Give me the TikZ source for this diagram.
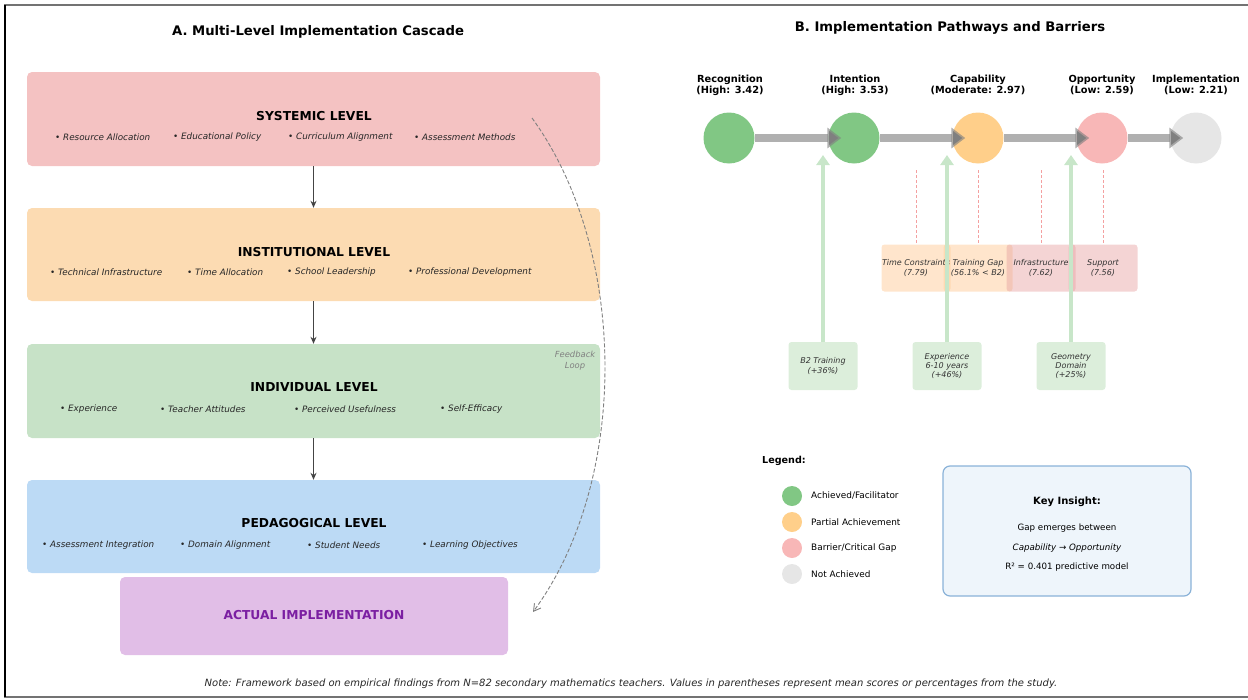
\documentclass[tikz,border=0pt]{standalone}
\usepackage{fontspec}
\setmainfont{DejaVu Sans}
\usetikzlibrary{arrows.meta}
\definecolor{sysfill}{HTML}{F4C2C2}
\definecolor{instfill}{HTML}{FCDBB2}
\definecolor{indfill}{HTML}{C7E2C7}
\definecolor{pedfill}{HTML}{BCDAF5}
\definecolor{implfill}{HTML}{E1BEE7}
\definecolor{impltext}{HTML}{7B1FA2}
\definecolor{cgreen}{HTML}{81C784}
\definecolor{corange}{HTML}{FFCF8A}
\definecolor{cpink}{HTML}{F8B7B7}
\definecolor{cgray}{HTML}{E6E6E6}
\definecolor{fgreen}{HTML}{C8E6C9}
\definecolor{fboxfill}{HTML}{DCEEDB}
\definecolor{borange}{HTML}{FFCC99}
\definecolor{bpink}{HTML}{E6A0A0}
\definecolor{bred}{HTML}{F4A0A0}
\definecolor{keyfill}{HTML}{EEF5FB}
\definecolor{keydraw}{HTML}{8AB2D8}
\definecolor{darkarrow}{HTML}{444444}
\tikzset{
  levelbox/.style={rounded corners=5pt, draw=none, minimum width=573pt, inner sep=0pt},
  leveltitle/.style={font=\bfseries\fontsize{12.3}{14}\selectfont, text=black},
  bulletitem/.style={anchor=west, inner sep=0pt, font=\itshape\fontsize{8.8}{10}\selectfont, text=black!85},
  cascadearrow/.style={draw=darkarrow, line width=1.1pt, -{Stealth[length=7pt,width=6pt]}},
  feedback/.style={draw=gray, line width=0.9pt, dash pattern=on 4pt off 2pt, -{Straight Barb[length=7pt,width=8pt]}},
  paneltitle/.style={font=\bfseries\fontsize{13.2}{15}\selectfont},
  stage/.style={circle, minimum size=51pt, inner sep=0pt, draw=none},
  stagelabel/.style={font=\bfseries\fontsize{9.8}{11}\selectfont, align=center, inner sep=0pt},
  flowarrow/.style={draw=black!50, draw opacity=0.62, line width=8pt, -{Triangle[length=14pt,width=20pt]}},
  facarrow/.style={draw=fgreen, line width=4pt, -{Triangle[length=10pt,width=13pt]}},
  facbox/.style={rounded corners=3pt, fill=fboxfill, minimum width=69pt, minimum height=48pt, inner sep=1pt, align=center, font=\itshape\fontsize{8}{9.4}\selectfont, text=black!80},
  barbox/.style={rounded corners=3pt, minimum width=69pt, minimum height=47pt, inner sep=0pt},
  bartext/.style={align=center, font=\itshape\fontsize{8}{9.4}\selectfont, text=black!80, inner sep=0pt},
  barline/.style={draw=bred, line width=0.6pt, dash pattern=on 3pt off 2pt},
  legdot/.style={circle, minimum size=20pt, inner sep=0pt},
  legtext/.style={anchor=west, font=\fontsize{8.9}{10}\selectfont, inner sep=0pt},
  keytext/.style={font=\fontsize{8.7}{10}\selectfont, inner sep=0pt},
}
\begin{document}
\begin{tikzpicture}[x=1pt, y=-1pt]
\useasboundingbox (0,0) rectangle (1248,699);
% frame
\draw[color=black!55, line width=1.5pt] (4,5) -- (1248,5);
\draw[color=black!55, line width=1.5pt] (4,697) -- (1248,697);
\draw[color=black, line width=1.5pt] (5,5) -- (5,697);

% ---------- Panel A ----------
\node[paneltitle] (titleA) at (318,32) {A. Multi-Level Implementation Cascade};

\node[levelbox, fill=sysfill, minimum height=94pt] (sys) at (313.5,119) {};
\node[levelbox, fill=instfill, minimum height=93pt] (inst) at (313.5,254.5) {};
\node[levelbox, fill=indfill, minimum height=94pt] (ind) at (313.5,391) {};
\node[levelbox, fill=pedfill, minimum height=93pt] (ped) at (313.5,526.5) {};
\node[rounded corners=5pt, fill=implfill, minimum width=388pt, minimum height=78pt, inner sep=0pt] (impl) at (314,616) {};

\node[leveltitle] (systitle) at (314,116) {SYSTEMIC LEVEL};
\node[bulletitem] (s1) at (55,137) {• Resource Allocation};
\node[bulletitem] (s2) at (173,137) {• Educational Policy};
\node[bulletitem] (s3) at (288,137) {• Curriculum Alignment};
\node[bulletitem] (s4) at (414,137) {• Assessment Methods};

\node[leveltitle] (insttitle) at (314,252) {INSTITUTIONAL LEVEL};
\node[bulletitem] (i1) at (50,272) {• Technical Infrastructure};
\node[bulletitem] (i2) at (187,272) {• Time Allocation};
\node[bulletitem] (i3) at (287,272) {• School Leadership};
\node[bulletitem] (i4) at (408,272) {• Professional Development};

\node[leveltitle] (indtitle) at (314,387) {INDIVIDUAL LEVEL};
\node[bulletitem] (n1) at (60,409) {• Experience};
\node[bulletitem] (n2) at (160,409) {• Teacher Attitudes};
\node[bulletitem] (n3) at (294,409) {• Perceived Usefulness};
\node[bulletitem] (n4) at (440,409) {• Self-Efficacy};

\node[leveltitle] (pedtitle) at (314,523) {PEDAGOGICAL LEVEL};
\node[bulletitem] (p1) at (42,545) {• Assessment Integration};
\node[bulletitem] (p2) at (180,545) {• Domain Alignment};
\node[bulletitem] (p3) at (307,545) {• Student Needs};
\node[bulletitem] (p4) at (422,545) {• Learning Objectives};

\node[font=\bfseries\fontsize{12.3}{14}\selectfont, text=impltext] (impltitle) at (314,615) {ACTUAL IMPLEMENTATION};

\draw[cascadearrow] (sys.south) -- (inst.north);
\draw[cascadearrow] (inst.south) -- (ind.north);
\draw[cascadearrow] (ind.south) -- (ped.north);

\coordinate (fbstart) at (532,118);
\coordinate (fbend) at (533,612);
\draw[feedback] (fbstart) .. controls (628,250) and (630,480) .. (fbend);
\node[font=\itshape\fontsize{8.4}{11}\selectfont, text=black!50, align=center, inner sep=0pt] (fblabel) at (575,361) {Feedback\\Loop};

% ---------- Panel B ----------
\node[paneltitle] (titleB) at (950,28) {B. Implementation Pathways and Barriers};

% barrier boxes
\node[barbox, fill=borange, fill opacity=0.5] (b1) at (916,268) {};
\node[barbox, fill=borange, fill opacity=0.5] (b2) at (978,268) {};
\node[barbox, fill=bpink, fill opacity=0.45] (b3) at (1041,268) {};
\node[barbox, fill=bpink, fill opacity=0.45] (b4) at (1103,268) {};
\node[bartext] (bt1) at (916,268) {Time Constraints\\(7.79)};
\node[bartext] (bt2) at (978,268) {Training Gap\\(56.1\% < B2)};
\node[bartext] (bt3) at (1041,268) {Infrastructure\\(7.62)};
\node[bartext] (bt4) at (1103,268) {Support\\(7.56)};

\coordinate (r1) at (916,170);
\coordinate (r2) at (978,170);
\coordinate (r3) at (1041,170);
\coordinate (r4) at (1103,170);
\draw[barline] (r1) -- (b1.north);
\draw[barline] (r2) -- (b2.north);
\draw[barline] (r3) -- (b3.north);
\draw[barline] (r4) -- (b4.north);

% stages
\node[stage, fill=cgreen] (c1) at (729,138) {};
\node[stage, fill=cgreen] (c2) at (854,138) {};
\node[stage, fill=corange] (c3) at (978,138) {};
\node[stage, fill=cpink] (c4) at (1102,138) {};
\node[stage, fill=cgray] (c5) at (1196,138) {};

\node[stagelabel] (l1) at (730,85) {Recognition\\(High: 3.42)};
\node[stagelabel] (l2) at (855,85) {Intention\\(High: 3.53)};
\node[stagelabel] (l3) at (978,85) {Capability\\(Moderate: 2.97)};
\node[stagelabel] (l4) at (1102,85) {Opportunity\\(Low: 2.59)};
\node[stagelabel] (l5) at (1196,85) {Implementation\\(Low: 2.21)};

\draw[flowarrow] (c1.east) -- ([xshift=13pt]c2.west);
\draw[flowarrow] (c2.east) -- ([xshift=13pt]c3.west);
\draw[flowarrow] (c3.east) -- ([xshift=13pt]c4.west);
\draw[flowarrow] (c4.east) -- ([xshift=13pt]c5.west);

% facilitators
\node[facbox] (f1) at (823,366) {B2 Training\\(+36\%)};
\node[facbox] (f2) at (947,366) {Experience\\6-10 years\\(+46\%)};
\node[facbox] (f3) at (1071,366) {Geometry\\Domain\\(+25\%)};
\coordinate (ft1) at (823,155);
\coordinate (ft2) at (947,155);
\coordinate (ft3) at (1071,155);
\draw[facarrow] (f1.north) -- (ft1);
\draw[facarrow] (f2.north) -- (ft2);
\draw[facarrow] (f3.north) -- (ft3);

% legend
\node[font=\bfseries\fontsize{9.6}{11}\selectfont, anchor=west, inner sep=0pt] (legtitle) at (762,461) {Legend:};
\node[legdot, fill=cgreen] (d1) at (792,496) {};
\node[legdot, fill=corange] (d2) at (792,522) {};
\node[legdot, fill=cpink] (d3) at (792,548) {};
\node[legdot, fill=cgray] (d4) at (792,574) {};
\node[legtext] (dl1) at (811,496) {Achieved/Facilitator};
\node[legtext] (dl2) at (811,522) {Partial Achievement};
\node[legtext] (dl3) at (811,548) {Barrier/Critical Gap};
\node[legtext] (dl4) at (811,574) {Not Achieved};

% key insight
\node[rounded corners=7pt, fill=keyfill, draw=keydraw, line width=1.2pt, minimum width=248pt, minimum height=130pt, inner sep=0pt] (key) at (1067,531) {};
\node[font=\bfseries\fontsize{10}{12}\selectfont, inner sep=0pt] (keytitle) at (1067,502) {Key Insight:};
\node[keytext] (k1) at (1067,528) {Gap emerges between};
\node[keytext, font=\itshape\fontsize{8.7}{10}\selectfont] (k2) at (1067,548) {Capability → Opportunity};
\node[keytext] (k3) at (1067,567) {R² = 0.401 predictive model};

% note
\node[font=\itshape\fontsize{10}{12}\selectfont, text=black!85, inner sep=0pt] (note) at (631,684) {Note: Framework based on empirical findings from N=82 secondary mathematics teachers. Values in parentheses represent mean scores or percentages from the study.};
\end{tikzpicture}
\end{document}
